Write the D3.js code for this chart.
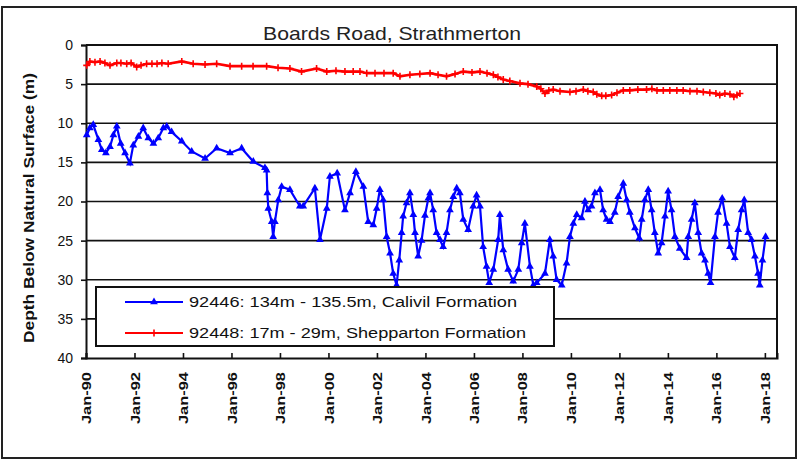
<!DOCTYPE html>
<html>
<head>
<meta charset="utf-8">
<script src="https://cdn.jsdelivr.net/npm/d3@7"></script>
<style>
  body { margin: 0; background: #fff; }
  svg { display: block; font-family: "Liberation Sans", Arial, sans-serif; }
</style>
</head>
<body>
<div id="vis"></div>
<script>
// bore 92446 (Calivil Formation), decimal year and depth (m)
var blueYear = [1990.03, 1990.16, 1990.30, 1990.51, 1990.65, 1990.82, 1990.99, 1991.13, 1991.27, 1991.43,
  1991.61, 1991.81, 1991.95, 1992.16, 1992.36, 1992.57, 1992.78, 1992.98, 1993.19, 1993.33,
  1993.53, 1993.95, 1994.36, 1994.91, 1995.39, 1995.94, 1996.42, 1996.90, 1997.38, 1997.45,
  1997.48, 1997.52, 1997.66, 1997.72, 1997.79, 1997.93, 1998.07, 1998.41, 1998.82, 1998.96,
  1999.44, 1999.65, 1999.93, 2000.06, 2000.36, 2000.68, 2000.89, 2001.13, 2001.44, 2001.64,
  2001.85, 2001.99, 2002.12, 2002.26, 2002.40, 2002.54, 2002.67, 2002.81, 2002.92, 2003.02,
  2003.08, 2003.22, 2003.36, 2003.50, 2003.57, 2003.70, 2003.84, 2003.98, 2004.12, 2004.19,
  2004.32, 2004.46, 2004.60, 2004.73, 2004.87, 2005.01, 2005.15, 2005.29, 2005.42, 2005.56,
  2005.76, 2005.97, 2006.11, 2006.25, 2006.38, 2006.52, 2006.63, 2006.80, 2007.00, 2007.07,
  2007.21, 2007.41, 2007.62, 2007.83, 2007.97, 2008.10, 2008.31, 2008.45, 2008.59, 2008.93,
  2009.13, 2009.27, 2009.41, 2009.62, 2009.82, 2009.96, 2010.10, 2010.24, 2010.44, 2010.58,
  2010.71, 2010.85, 2010.99, 2011.20, 2011.33, 2011.47, 2011.61, 2011.81, 2011.95, 2012.16,
  2012.30, 2012.43, 2012.64, 2012.82, 2012.92, 2013.05, 2013.19, 2013.33, 2013.46, 2013.60,
  2013.74, 2013.88, 2014.01, 2014.15, 2014.29, 2014.49, 2014.77, 2014.84, 2014.98, 2015.11,
  2015.25, 2015.39, 2015.53, 2015.66, 2015.76, 2015.94, 2016.07, 2016.24, 2016.42, 2016.56,
  2016.76, 2016.90, 2017.04, 2017.15, 2017.31, 2017.45, 2017.59, 2017.72, 2017.79, 2017.90,
  2018.03];
var blueDepth = [11.5, 10.6, 10.2, 12.1, 13.4, 13.8, 13.0, 11.5, 10.4, 12.6,
  13.8, 15.1, 12.8, 11.7, 10.6, 11.9, 12.6, 11.9, 10.6, 10.4,
  11.1, 12.3, 13.6, 14.5, 13.2, 13.8, 13.2, 14.9, 15.7, 16.0,
  18.9, 20.9, 22.6, 24.5, 22.6, 19.8, 18.1, 18.5, 20.6, 20.6,
  18.3, 24.9, 20.9, 16.8, 16.4, 21.1, 18.9, 16.2, 18.1, 22.6,
  23.0, 20.9, 18.5, 19.8, 24.5, 26.6, 29.2, 30.7, 27.5, 24.0,
  21.9, 20.2, 18.9, 21.7, 24.0, 27.0, 25.0, 21.8, 19.6, 18.9,
  21.1, 24.0, 24.9, 25.8, 24.0, 21.1, 19.4, 18.3, 18.9, 22.3,
  23.6, 20.6, 19.2, 20.6, 25.8, 28.3, 30.4, 28.7, 24.9, 21.7,
  26.2, 28.7, 30.2, 28.7, 25.3, 22.8, 28.3, 30.7, 30.4, 29.2,
  24.9, 27.0, 30.0, 30.7, 27.9, 24.5, 22.8, 21.7, 22.1, 20.0,
  21.1, 20.6, 18.9, 18.5, 21.1, 22.3, 22.6, 21.4, 19.4, 17.7,
  19.8, 21.4, 23.4, 24.7, 22.3, 19.8, 18.5, 21.1, 24.0, 26.6,
  25.3, 21.9, 18.7, 21.1, 24.5, 26.0, 27.2, 24.5, 22.3, 20.2,
  24.0, 26.6, 27.5, 29.2, 30.4, 24.5, 21.4, 19.6, 22.8, 25.8,
  27.2, 23.6, 21.1, 19.8, 24.0, 24.9, 27.0, 29.2, 30.7, 27.5,
  24.5];

// bore 92448 (Shepparton Formation)
var redYear = [1990.03, 1990.16, 1990.37, 1990.58, 1990.78, 1990.99, 1991.27, 1991.44, 1991.68, 1991.86,
  1992.09, 1992.27, 1992.50, 1992.72, 1992.93, 1993.13, 1993.39, 1993.95, 1994.42, 1994.91,
  1995.39, 1995.94, 1996.42, 1996.89, 1997.45, 1997.92, 1998.41, 1998.89, 1999.51, 1999.93,
  2000.31, 2000.68, 2001.02, 2001.30, 2001.58, 2001.92, 2002.29, 2002.67, 2002.95, 2003.36,
  2003.77, 2004.19, 2004.52, 2004.87, 2005.22, 2005.56, 2005.92, 2006.25, 2006.54, 2006.80,
  2006.99, 2007.21, 2007.48, 2007.90, 2008.23, 2008.59, 2008.76, 2008.93, 2009.09, 2009.27,
  2009.55, 2009.96, 2010.21, 2010.51, 2010.70, 2010.92, 2011.07, 2011.27, 2011.44, 2011.68,
  2011.90, 2012.16, 2012.43, 2012.76, 2013.12, 2013.34, 2013.55, 2013.81, 2014.08, 2014.37,
  2014.63, 2014.91, 2015.20, 2015.46, 2015.73, 2015.98, 2016.14, 2016.35, 2016.56, 2016.72,
  2016.85, 2016.97];
var redDepth = [2.6, 2.1, 2.2, 2.1, 2.3, 2.6, 2.3, 2.3, 2.4, 2.3,
  2.8, 2.6, 2.4, 2.4, 2.4, 2.3, 2.4, 2.1, 2.4, 2.5,
  2.4, 2.7, 2.7, 2.7, 2.7, 2.9, 3.0, 3.4, 3.0, 3.4,
  3.3, 3.4, 3.4, 3.4, 3.6, 3.6, 3.6, 3.6, 4.0, 3.8,
  3.7, 3.6, 3.8, 4.0, 3.7, 3.4, 3.5, 3.4, 3.6, 3.8,
  4.1, 4.4, 4.6, 4.9, 5.0, 5.3, 5.6, 6.2, 5.8, 5.7,
  5.9, 6.0, 5.9, 5.7, 5.9, 6.0, 6.3, 6.5, 6.5, 6.4,
  6.1, 5.8, 5.8, 5.7, 5.7, 5.6, 5.8, 5.8, 5.8, 5.8,
  5.8, 5.9, 5.9, 6.0, 6.1, 6.2, 6.4, 6.2, 6.3, 6.6,
  6.4, 6.2];

var xTickYears = [1990, 1992, 1994, 1996, 1998, 2000, 2002, 2004, 2006, 2008, 2010, 2012, 2014, 2016, 2018];
var xTickLabels = ["Jan-90", "Jan-92", "Jan-94", "Jan-96", "Jan-98", "Jan-00", "Jan-02", "Jan-04",
  "Jan-06", "Jan-08", "Jan-10", "Jan-12", "Jan-14", "Jan-16", "Jan-18"];
var yTicks = [0, 5, 10, 15, 20, 25, 30, 35, 40];
var seriesNames = ["92446: 134m - 135.5m, Calivil Formation", "92448: 17m - 29m, Shepparton Formation"];

var width = 799, height = 461;
var plot = { left: 86, right: 777, top: 45, bottom: 358 };

var svg = d3.select('#vis').append('svg')
  .attr('width', width)
  .attr('height', height);

// outer frame
svg.append('rect')
  .attr('x', 2).attr('y', 7)
  .attr('width', 794).attr('height', 451)
  .attr('fill', '#fff')
  .attr('stroke', '#222')
  .attr('stroke-width', 2);

var x = d3.scaleLinear().domain([1990, 2018.5]).range([plot.left, plot.right]);
var y = d3.scaleLinear().domain([0, 40]).range([plot.top, plot.bottom]);

// gridlines
svg.append('g')
  .selectAll('line')
  .data(yTicks.slice(1, -1))
  .enter().append('line')
  .attr('x1', plot.left).attr('x2', plot.right)
  .attr('y1', function (d) { return y(d); })
  .attr('y2', function (d) { return y(d); })
  .attr('stroke', '#111')
  .attr('stroke-width', 1.6);

// plot frame (top and right)
svg.append('path')
  .attr('d', 'M' + plot.left + ',' + plot.top + 'H' + plot.right + 'V' + plot.bottom)
  .attr('fill', 'none')
  .attr('stroke', '#111')
  .attr('stroke-width', 2);

// y axis
var yAxis = svg.append('g')
  .attr('transform', 'translate(' + plot.left + ',0)')
  .call(d3.axisLeft(y).tickValues(yTicks).tickSize(5).tickPadding(8));
yAxis.select('.domain').attr('stroke', '#111').attr('stroke-width', 2);
yAxis.selectAll('.tick line').attr('stroke', '#111').attr('stroke-width', 1.6);
yAxis.selectAll('.tick text')
  .attr('font-size', 14)
  .attr('font-family', '"Liberation Sans", Arial, sans-serif')
  .attr('fill', '#111');

// x axis, ticks pointing into the plot
var xAxis = svg.append('g')
  .attr('transform', 'translate(0,' + plot.bottom + ')')
  .call(d3.axisBottom(x)
    .tickValues(xTickYears)
    .tickFormat(function (d, i) { return xTickLabels[i]; })
    .tickSize(-5));
xAxis.select('.domain').attr('stroke', '#111').attr('stroke-width', 2);
xAxis.selectAll('.tick line').attr('stroke', '#111').attr('stroke-width', 1.6);
xAxis.selectAll('.tick text')
  .attr('font-size', 13)
  .attr('font-weight', 'bold')
  .attr('font-family', '"Liberation Sans", Arial, sans-serif')
  .attr('fill', '#111')
  .attr('text-anchor', 'end')
  .attr('transform', 'rotate(-90)')
  .attr('x', -14)
  .attr('y', 0)
  .attr('dy', '0.35em')
  .attr('textLength', 52)
  .attr('lengthAdjust', 'spacingAndGlyphs');

// series
var line = d3.line()
  .x(function (d) { return x(d[0]); })
  .y(function (d) { return y(d[1]); });

var blueData = d3.zip(blueYear, blueDepth);
var redData = d3.zip(redYear, redDepth);

var tri = d3.symbol().type(d3.symbolTriangle).size(26);

svg.append('path')
  .datum(redData)
  .attr('d', line)
  .attr('fill', 'none')
  .attr('stroke', '#ff0000')
  .attr('stroke-width', 2.6);

svg.append('g')
  .selectAll('path')
  .data(redData)
  .enter().append('path')
  .attr('d', function (d) {
    var px = x(d[0]), py = y(d[1]);
    return 'M' + (px - 3.5) + ',' + py + 'H' + (px + 3.5) + 'M' + px + ',' + (py - 3.5) + 'V' + (py + 3.5);
  })
  .attr('stroke', '#ff0000')
  .attr('stroke-width', 1.6);

svg.append('path')
  .datum(blueData)
  .attr('d', line)
  .attr('fill', 'none')
  .attr('stroke', '#0000ff')
  .attr('stroke-width', 2.2);

svg.append('g')
  .selectAll('path')
  .data(blueData)
  .enter().append('path')
  .attr('transform', function (d) { return 'translate(' + x(d[0]) + ',' + y(d[1]) + ')'; })
  .attr('d', tri)
  .attr('fill', '#0000ff');

// title
svg.append('text')
  .attr('x', 392)
  .attr('y', 40)
  .attr('text-anchor', 'middle')
  .attr('font-size', 19)
  .attr('fill', '#222')
  .attr('textLength', 258)
  .attr('lengthAdjust', 'spacingAndGlyphs')
  .text('Boards Road, Strathmerton');

// y axis title
svg.append('text')
  .attr('transform', 'translate(34,208) rotate(-90)')
  .attr('text-anchor', 'middle')
  .attr('font-size', 14)
  .attr('font-weight', 'bold')
  .attr('fill', '#111')
  .attr('textLength', 270)
  .attr('lengthAdjust', 'spacingAndGlyphs')
  .text('Depth  Below  Natural Surface  (m)');

// legend
var legend = svg.append('g');
legend.append('rect')
  .attr('x', 96).attr('y', 287)
  .attr('width', 458).attr('height', 59)
  .attr('fill', '#fff')
  .attr('stroke', '#111')
  .attr('stroke-width', 2);

var legendColors = ['#0000ff', '#ff0000'];
var legendY = [302, 333];
seriesNames.forEach(function (name, i) {
  var ly = legendY[i];
  legend.append('line')
    .attr('x1', 125).attr('x2', 183)
    .attr('y1', ly).attr('y2', ly)
    .attr('stroke', legendColors[i])
    .attr('stroke-width', 2);
  if (i === 0) {
    legend.append('path')
      .attr('transform', 'translate(154,' + ly + ')')
      .attr('d', tri)
      .attr('fill', legendColors[i]);
  } else {
    legend.append('path')
      .attr('d', 'M150.5,' + ly + 'H157.5M154,' + (ly - 3.5) + 'V' + (ly + 3.5))
      .attr('stroke', legendColors[i])
      .attr('stroke-width', 1.6);
  }
  legend.append('text')
    .attr('x', 189)
    .attr('y', ly + 5)
    .attr('font-size', 14)
    .attr('fill', '#111')
    .attr('textLength', i === 0 ? 328 : 337)
    .attr('lengthAdjust', 'spacingAndGlyphs')
    .text(name);
});
</script>
</body>
</html>
